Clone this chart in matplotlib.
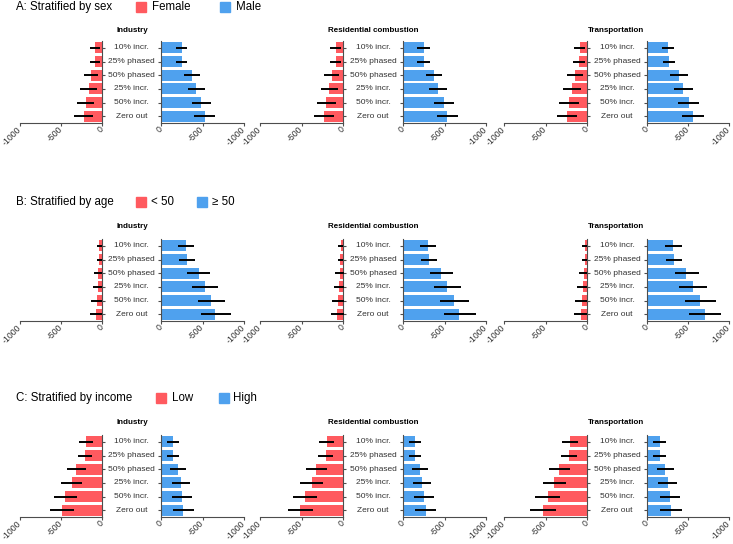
import matplotlib
matplotlib.use("Agg")
import matplotlib.pyplot as plt
from matplotlib.patches import Rectangle
import matplotlib.transforms as mtransforms
import numpy as np

plt.rcParams['font.family'] = ['Liberation Sans', 'DejaVu Sans']

scenarios = ["10% incr.", "25% phased", "50% phased", "25% incr.", "50% incr.", "Zero out"]
sources = ["Industry", "Residential combustion", "Transportation"]

row_titles = ["A: Stratified by sex", "B: Stratified by age", "C: Stratified by income"]
group_left = ["Female", "< 50", "Low"]
group_right = ["Male", "\u2265 50", "High"]

left_ticks = [-1000, -500, 0]
right_ticks = [0, -500, -1000]

# ---- Row A: sex (values are changes, negative) ----
sex_f_est = [[-80, -88, -132, -164, -200, -220],
             [-84, -88, -132, -168, -204, -228],
             [-88, -92, -140, -176, -216, -240]]
sex_f_lo = [[-144, -152, -224, -264, -308, -336],
            [-156, -156, -228, -268, -316, -352],
            [-160, -164, -240, -284, -332, -364]]
sex_f_hi = [[-20, -24, -44, -64, -92, -108],
            [-28, -28, -44, -64, -88, -108],
            [-20, -20, -48, -68, -100, -116]]
sex_m_est = [[-248, -248, -372, -424, -484, -528],
             [-248, -248, -372, -424, -488, -536],
             [-260, -264, -388, -444, -508, -556]]
sex_m_lo = [[-312, -316, -472, -532, -608, -656],
            [-320, -320, -472, -536, -612, -668],
            [-332, -340, -496, -560, -636, -696]]
sex_m_hi = [[-176, -176, -272, -320, -368, -400],
            [-172, -172, -272, -316, -372, -408],
            [-184, -192, -284, -328, -384, -424]]

# ---- Row B: age ----
age_y_est = [[-32, -32, -44, -52, -64, -72],
             [-28, -32, -40, -48, -60, -72],
             [-24, -28, -40, -48, -60, -76]]
age_y_lo = [[-64, -64, -100, -112, -132, -144],
            [-60, -60, -92, -104, -128, -144],
            [-64, -64, -100, -120, -140, -152]]
age_y_hi = [[0, 0, 4, 4, 4, 4],
            [0, 4, 12, 12, 12, 16],
            [0, 0, 0, 4, 4, 4]]
age_o_est = [[-300, -308, -456, -528, -608, -656],
             [-304, -312, -460, -536, -616, -680],
             [-320, -328, -480, -560, -648, -708]]
age_o_lo = [[-400, -404, -592, -684, -776, -840],
            [-400, -408, -600, -696, -796, -876],
            [-424, -432, -632, -732, -836, -908]]
age_o_hi = [[-204, -212, -316, -372, -440, -480],
            [-208, -212, -320, -376, -444, -488],
            [-220, -228, -336, -396, -468, -508]]

# ---- Row C: income ----
inc_l_est = [[-196, -208, -312, -368, -448, -492],
             [-196, -208, -320, -376, -456, -516],
             [-208, -220, -336, -392, -472, -528]]
inc_l_lo = [[-284, -292, -432, -500, -588, -640],
            [-288, -300, -444, -516, -600, -668],
            [-300, -312, -460, -536, -624, -684]]
inc_l_hi = [[-108, -120, -192, -240, -304, -344],
            [-108, -120, -192, -244, -308, -360],
            [-112, -124, -208, -248, -324, -368]]
inc_h_est = [[-144, -144, -204, -236, -252, -268],
             [-140, -140, -208, -232, -252, -276],
             [-156, -156, -224, -252, -276, -292]]
inc_h_lo = [[-212, -212, -300, -344, -372, -396],
            [-212, -212, -304, -340, -372, -400],
            [-228, -228, -328, -368, -400, -428]]
inc_h_hi = [[-72, -72, -112, -128, -136, -144],
            [-72, -72, -104, -124, -132, -144],
            [-76, -76, -120, -140, -156, -164]]

left_est = [sex_f_est, age_y_est, inc_l_est]
left_lo = [sex_f_lo, age_y_lo, inc_l_lo]
left_hi = [sex_f_hi, age_y_hi, inc_l_hi]
right_est = [sex_m_est, age_o_est, inc_h_est]
right_lo = [sex_m_lo, age_o_lo, inc_h_lo]
right_hi = [sex_m_hi, age_o_hi, inc_h_hi]

RED = "#FF5A5F"
BLUE = "#4FA1EE"
SPINE = "#4D4D4D"
TXT = "#333333"

W, H = 733, 544
fig = plt.figure(figsize=(W / 100, H / 100), dpi=100)


def rect(x0, x1, ytop, ybot):
    return [x0 / W, 1 - ybot / H, (x1 - x0) / W, (ybot - ytop) / H]


cols = [(20, 102, 161, 244), (260, 343, 403, 486), (504, 587, 647, 729)]
row_bottom = [123, 321, 517]
row_header_y = [7, 202, 398]
row_title_y = [30, 226, 423]
legend_x = [(136, 152, 220, 236), (136, 151, 197, 212), (156, 172, 219, 233)]

ypos = np.arange(len(scenarios))


def style_axis(ax, side, ticks):
    for s in ["top", "left", "right", "bottom"]:
        ax.spines[s].set_visible(False)
    ax.spines["bottom"].set_visible(True)
    ax.spines[side].set_visible(True)
    for s in ["bottom", side]:
        ax.spines[s].set_color(SPINE)
        ax.spines[s].set_linewidth(0.8)
    ax.set_xticks(ticks)
    ax.set_xticklabels([str(t) for t in ticks])
    ax.tick_params(axis="both", colors=SPINE, length=2.5, width=0.8, labelsize=6.3,
                   labelcolor=TXT)
    ax.tick_params(axis="x", pad=1.2)
    ax.set_ylim(len(scenarios) - 0.5, -0.5)
    ax.set_yticks(ypos)
    ax.set_yticklabels([])
    ax.set_facecolor("none")
    for lab in ax.get_xticklabels():
        lab.set_rotation(45)
        lab.set_ha("right")
        lab.set_va("center")
        lab.set_rotation_mode("anchor")


for r in range(3):
    yb = row_bottom[r]
    yt = yb - 82
    for c in range(3):
        lx0, lx1, rx0, rx1 = cols[c]
        axL = fig.add_axes(rect(lx0, lx1, yt, yb))
        axL.barh(ypos, left_est[r][c], height=0.82, color=RED, zorder=2)
        axL.hlines(ypos, left_lo[r][c], left_hi[r][c], color="black", lw=1.4,
                   zorder=3, clip_on=False)
        axL.set_xlim(-1000, 0)
        axL.yaxis.tick_right()
        style_axis(axL, "right", left_ticks)

        axR = fig.add_axes(rect(rx0, rx1, yt, yb))
        axR.barh(ypos, right_est[r][c], height=0.82, color=BLUE, zorder=2)
        axR.hlines(ypos, right_lo[r][c], right_hi[r][c], color="black", lw=1.4,
                   zorder=3, clip_on=False)
        axR.set_xlim(0, -1000)
        style_axis(axR, "left", right_ticks)

        # category labels centred in the gap
        trans = mtransforms.blended_transform_factory(fig.transFigure, axR.transData)
        xc = ((lx1 + rx0) / 2) / W
        for i, s in enumerate(scenarios):
            fig.text(xc, ypos[i], s, transform=trans, ha="center", va="center",
                     fontsize=6, color=TXT)

        # panel title
        fig.text(((lx0 + rx1) / 2) / W, 1 - row_title_y[r] / H, sources[c],
                 ha="center", va="center", fontsize=5.8, fontweight="bold",
                 color="black")

    # row header and legend
    hy = 1 - row_header_y[r] / H
    fig.text(16 / W, hy, row_titles[r], ha="left", va="center", fontsize=8.3,
             color="black")
    sqL, txL, sqR, txR = legend_x[r]
    sq = 10
    fig.add_artist(Rectangle((sqL / W, hy - (sq / 2) / H), sq / W, sq / H,
                             transform=fig.transFigure, color=RED))
    fig.text(txL / W, hy, group_left[r], ha="left", va="center", fontsize=8.3,
             color="black")
    fig.add_artist(Rectangle((sqR / W, hy - (sq / 2) / H), sq / W, sq / H,
                             transform=fig.transFigure, color=BLUE))
    fig.text(txR / W, hy, group_right[r], ha="left", va="center", fontsize=8.3,
             color="black")

fig.savefig("out.png", dpi=100, facecolor="white")
